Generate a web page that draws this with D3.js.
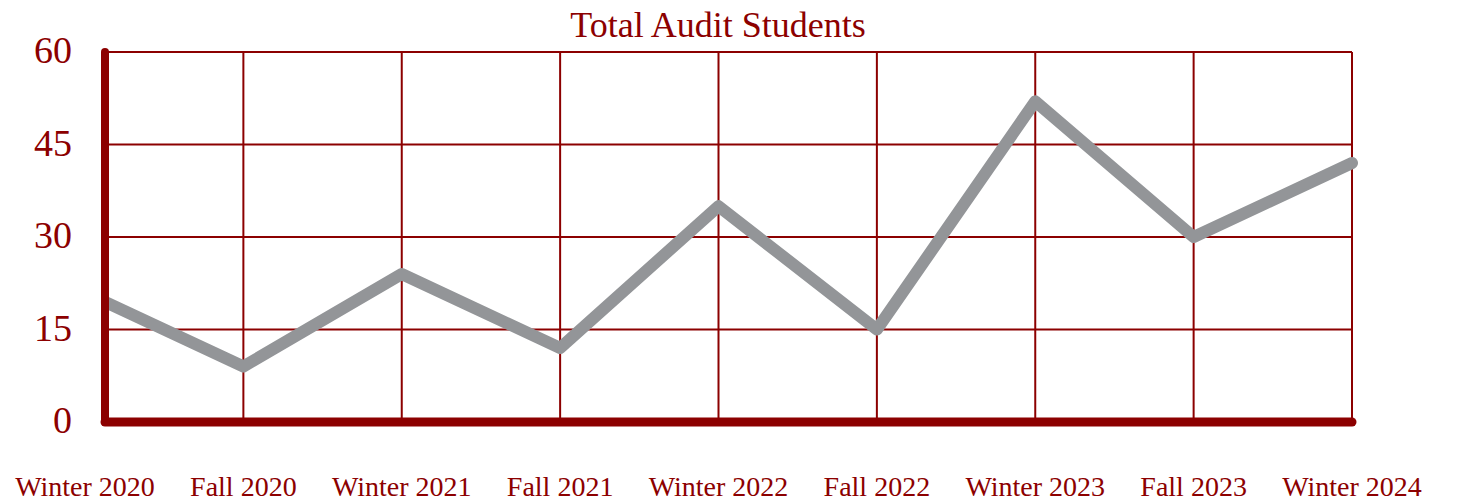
<!DOCTYPE html>
<html>
<head>
<meta charset="utf-8">
<script src="https://cdn.jsdelivr.net/npm/d3@7"></script>
<style>
  body { margin: 0; background: #fff; }
  text { font-family: "Liberation Serif", serif; fill: #8c0000; }
</style>
</head>
<body>
<div id="chart"></div>
<script>
var w = 1460,
	h = 504,
	axisX = 105;

var terms = ["Winter 2020", "Fall 2020", "Winter 2021", "Fall 2021", "Winter 2022",
	"Fall 2022", "Winter 2023", "Fall 2023", "Winter 2024"];
var students = [21, 9, 24, 12, 35, 15, 52, 30, 42];
var yTicks = [0, 15, 30, 45, 60];

var red = "#8c0000",
	grey = "#939598";

var svg = d3.select("#chart")
	.append("svg")
	.attr("width", w)
	.attr("height", h);

var x = d3.scalePoint()
	.domain(terms)
	.range([85, 1352]);

var y = d3.scaleLinear()
	.domain([0, 60])
	.range([422, 52]);

// line is cut off at the left axis
svg.append("clipPath")
	.attr("id", "plotclip")
	.append("rect")
	.attr("x", axisX)
	.attr("y", 0)
	.attr("width", w - axisX)
	.attr("height", h);

// title
svg.append("text")
	.attr("x", 718)
	.attr("y", 37)
	.attr("text-anchor", "middle")
	.attr("font-size", 36)
	.text("Total Audit Students");

// horizontal grid
svg.selectAll(".hgrid")
	.data(yTicks.slice(1))
	.enter()
	.append("line")
	.attr("class", "hgrid")
	.attr("x1", axisX)
	.attr("x2", x.range()[1])
	.attr("y1", function(d) { return y(d); })
	.attr("y2", function(d) { return y(d); })
	.attr("stroke", red)
	.attr("stroke-width", 2);

// vertical grid
svg.selectAll(".vgrid")
	.data(terms.slice(1))
	.enter()
	.append("line")
	.attr("class", "vgrid")
	.attr("x1", function(d) { return x(d); })
	.attr("x2", function(d) { return x(d); })
	.attr("y1", y(60))
	.attr("y2", y(0))
	.attr("stroke", red)
	.attr("stroke-width", 2);

// the data line
var line = d3.line()
	.x(function(d, i) { return x(terms[i]); })
	.y(function(d) { return y(d); });

svg.append("path")
	.datum(students)
	.attr("clip-path", "url(#plotclip)")
	.attr("d", line)
	.attr("fill", "none")
	.attr("stroke", grey)
	.attr("stroke-width", 12)
	.attr("stroke-linejoin", "round")
	.attr("stroke-linecap", "round");

// thick axes
svg.append("line")
	.attr("x1", axisX)
	.attr("x2", axisX)
	.attr("y1", y(60))
	.attr("y2", y(0))
	.attr("stroke", red)
	.attr("stroke-width", 8)
	.attr("stroke-linecap", "round");

svg.append("line")
	.attr("x1", axisX)
	.attr("x2", x.range()[1])
	.attr("y1", y(0))
	.attr("y2", y(0))
	.attr("stroke", red)
	.attr("stroke-width", 9)
	.attr("stroke-linecap", "round");

// y labels
svg.selectAll(".ylab")
	.data(yTicks)
	.enter()
	.append("text")
	.attr("class", "ylab")
	.attr("x", 72)
	.attr("y", function(d) { return y(d); })
	.attr("dy", "0.3em")
	.attr("text-anchor", "end")
	.attr("font-size", 38)
	.text(function(d) { return d; });

// x labels
svg.selectAll(".xlab")
	.data(terms)
	.enter()
	.append("text")
	.attr("class", "xlab")
	.attr("x", function(d) { return x(d); })
	.attr("y", 496)
	.attr("text-anchor", "middle")
	.attr("font-size", 28)
	.text(function(d) { return d; });
</script>
</body>
</html>
